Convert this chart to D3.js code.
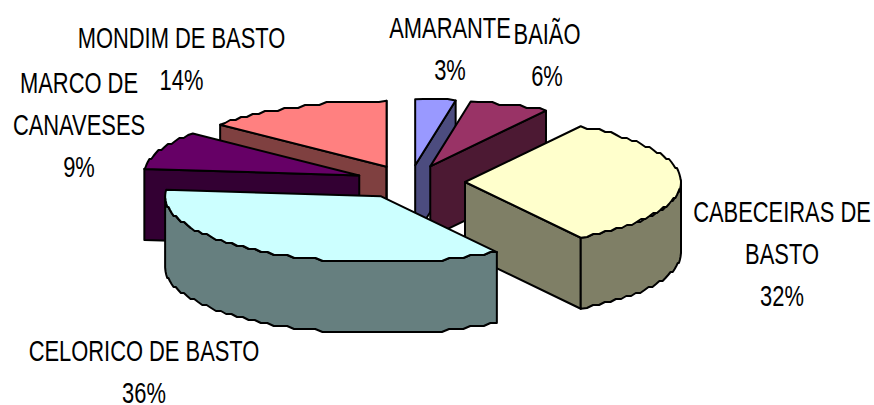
<!DOCTYPE html>
<html>
<head>
<meta charset="utf-8">
<script src="https://d3js.org/d3.v7.min.js"></script>
<style>
  html, body { margin: 0; padding: 0; background: #fff; }
  svg { display: block; }
  text { font-family: "Liberation Sans", Arial, sans-serif; font-size: 29px; fill: #000; }
</style>
</head>
<body>
<div id="chart"></div>
<script>
const width = 874,
  height = 405;

// data (labels show the rounded percentages)
const categories = ["AMARANTE", "BAIÃO", "CABECEIRAS DE BASTO", "CELORICO DE BASTO", "MARCO DE CANAVESES", "MONDIM DE BASTO"];
const values = [3, 6, 32, 35.6, 9.4, 14];
const topColors = ["#9999ff", "#993366", "#ffffcc", "#ccffff", "#660066", "#ff8080"];
const sideColors = ["#4c4c7f", "#4c1933", "#7f7f66", "#667f7f", "#330033", "#7f4040"];
// wrapped label lines, with the centre and first baseline of each label
const labelLines = [
  ["AMARANTE"],
  ["BAIÃO"],
  ["CABECEIRAS DE", "BASTO"],
  ["CELORICO DE BASTO"],
  ["MARCO DE", "CANAVESES"],
  ["MONDIM DE BASTO"],
];
const labelSpots = [[450, 38], [547, 44], [782, 222], [144, 361], [79, 93], [181.5, 48]];
const paintOrder = [5, 4, 0, 1, 2, 3];

const x = d3.scaleLinear().domain([-1, 1]).range([194, 626]);
const y = d3.scaleLinear().domain([-1, 1]).range([116, 248]);
const depth = 71;
const explode = 55 / 216;

const svg = d3.select("#chart").append("svg")
  .attr("width", width)
  .attr("height", height);

const slices = d3.pie().sort(null).value(d => d)(values);
const line = d3.line();

// the original chart's rim is a coarse polygon, snapped to a rough grid
const snap = v => Math.round(v / 3) * 3;

function rimPoint(d, a) {
  const mid = (d.startAngle + d.endAngle) / 2;
  return [
    x(Math.sin(a) + explode * Math.sin(mid)),
    y(-Math.cos(a) - explode * Math.cos(mid)),
  ];
}

function rim(d, from, to) {
  const n = Math.max(2, Math.round((to - from) / 0.035));
  const pts = d3.range(n + 1).map(i => rimPoint(d, from + (to - from) * i / n));
  return pts.map((p, i) => (i === 0 || i === n ? p : [p[0], snap(p[1])]));
}

function wall(pts) {
  const low = pts.slice().reverse().map(p => [p[0], p[1] + depth]);
  return line(pts.concat(low)) + "Z";
}

const groups = svg.selectAll("g.slice")
  .data(paintOrder.map(i => slices[i]))
  .join("g")
  .attr("class", "slice");

groups.each(function (d) {
  const g = d3.select(this);
  const mid = (d.startAngle + d.endAngle) / 2;
  const apex = [x(explode * Math.sin(mid)), y(-explode * Math.cos(mid))];
  const faces = [];
  if (Math.sin(d.startAngle) < 0) faces.push([apex, rimPoint(d, d.startAngle)]);
  if (Math.sin(d.endAngle) > 0) faces.push([rimPoint(d, d.endAngle), apex]);
  const from = Math.max(d.startAngle, Math.PI / 2),
    to = Math.min(d.endAngle, Math.PI * 1.5);
  if (from < to) faces.push(rim(d, from, to));

  g.selectAll("path.side")
    .data(faces)
    .join("path")
    .attr("class", "side")
    .attr("d", wall)
    .attr("fill", sideColors[d.index])
    .attr("stroke", "#000")
    .attr("stroke-width", 2)
    .attr("stroke-linejoin", "round");

  g.append("path")
    .attr("class", "top")
    .attr("d", line([apex, ...rim(d, d.startAngle, d.endAngle)]) + "Z")
    .attr("fill", topColors[d.index])
    .attr("stroke", "#000")
    .attr("stroke-width", 2)
    .attr("stroke-linejoin", "round");
});

// labels: name lines then the percentage
const labels = svg.selectAll("text.label")
  .data(categories)
  .join("text")
  .attr("class", "label")
  .attr("text-anchor", "middle")
  .attr("transform", (d, i) => `translate(${labelSpots[i][0]},${labelSpots[i][1]}) scale(0.755,1)`);

labels.selectAll("tspan")
  .data((d, i) => labelLines[i].concat(Math.round(values[i]) + "%"))
  .join("tspan")
  .attr("x", 0)
  .attr("y", (d, i) => i * 42)
  .text(d => d);
</script>
</body>
</html>
